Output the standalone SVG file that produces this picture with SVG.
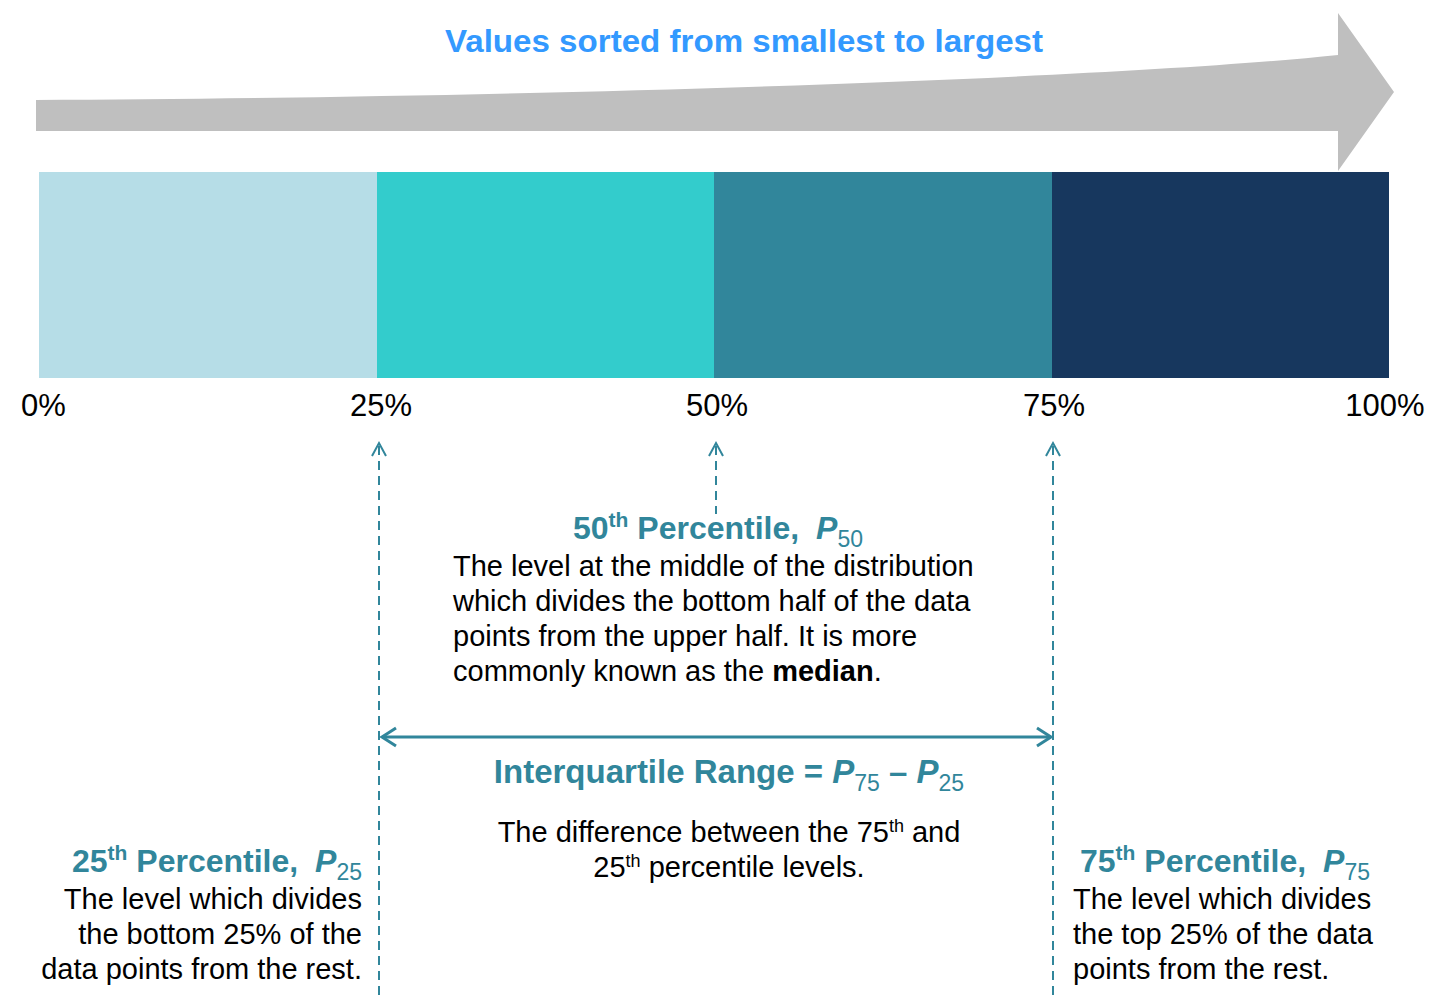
<svg xmlns="http://www.w3.org/2000/svg" width="1449" height="996" viewBox="0 0 1449 996">
<style>
.t{font-family:"Liberation Sans",Arial,sans-serif}
.pct{font-size:31px;fill:#000}
.hd{font-size:32px;font-weight:bold;fill:#31869B}
.bd{font-size:29px;fill:#000}
.dash{stroke:#31869B;stroke-width:2;stroke-dasharray:9,6;fill:none}
.chev{stroke:#31869B;stroke-width:2;fill:none}
</style>
<rect width="1449" height="996" fill="#fff"/>
<g id="big-arrow">
<path d="M36,100 C500,98 1100,80 1338,55 L1338,13 L1394,92 L1338,171 L1338,131 L36,131 Z" fill="#BFBFBF"/>
<text class="t" x="744" y="52" text-anchor="middle" font-size="32" font-weight="bold" fill="#3399FF" textLength="598" lengthAdjust="spacingAndGlyphs">Values sorted from smallest to largest</text>
</g>
<g id="bar">
<rect x="39" y="172" width="338" height="206" fill="#B6DDE7"/>
<rect x="377" y="172" width="337" height="206" fill="#33CCCC"/>
<rect x="714" y="172" width="338" height="206" fill="#31869B"/>
<rect x="1052" y="172" width="337" height="206" fill="#17375E"/>
</g>
<g id="pct-labels" class="t pct">
<text x="21" y="416">0%</text>
<text x="381" y="416" text-anchor="middle">25%</text>
<text x="717" y="416" text-anchor="middle">50%</text>
<text x="1054" y="416" text-anchor="middle">75%</text>
<text x="1385" y="416" text-anchor="middle">100%</text>
</g>
<g id="connectors">
<line class="dash" x1="379" y1="446" x2="379" y2="996"/>
<polyline class="chev" points="372,456 379,443 386,456"/>
<line class="dash" x1="716" y1="446" x2="716" y2="514"/>
<polyline class="chev" points="709,456 716,443 723,456"/>
<line class="dash" x1="1053" y1="446" x2="1053" y2="996"/>
<polyline class="chev" points="1046,456 1053,443 1060,456"/>
<line x1="382" y1="737" x2="1051" y2="737" stroke="#31869B" stroke-width="3"/>
<polyline points="396,728 382,737 396,746" stroke="#31869B" stroke-width="3" fill="none"/>
<polyline points="1037,728 1051,737 1037,746" stroke="#31869B" stroke-width="3" fill="none"/>
</g>
<g id="p50">
<text class="t hd" x="573" y="539">50<tspan font-size="21" dy="-12">th</tspan><tspan dy="12"> Percentile, </tspan><tspan font-style="italic" dx="8">P</tspan><tspan font-size="23" font-weight="normal" dy="8">50</tspan></text>
<text class="t bd" x="453" y="576">The level at the middle of the distribution</text>
<text class="t bd" x="453" y="611">which divides the bottom half of the data</text>
<text class="t bd" x="453" y="646">points from the upper half. It is more</text>
<text class="t bd" x="453" y="681">commonly known as the <tspan font-weight="bold">median</tspan>.</text>
</g>
<g id="iqr">
<text class="t" x="729" y="783" text-anchor="middle" font-size="33" font-weight="bold" fill="#31869B">Interquartile Range = <tspan font-style="italic">P</tspan><tspan font-size="23" font-weight="normal" dy="8">75</tspan><tspan dy="-8"> – </tspan><tspan font-style="italic">P</tspan><tspan font-size="23" font-weight="normal" dy="8">25</tspan></text>
<text class="t bd" x="729" y="842" text-anchor="middle">The difference between the 75<tspan font-size="18" dy="-10">th</tspan><tspan dy="10"> and</tspan></text>
<text class="t bd" x="729" y="877" text-anchor="middle">25<tspan font-size="18" dy="-10">th</tspan><tspan dy="10"> percentile levels.</tspan></text>
</g>
<g id="p25">
<text class="t hd" x="362" y="872" text-anchor="end">25<tspan font-size="21" dy="-12">th</tspan><tspan dy="12"> Percentile, </tspan><tspan font-style="italic" dx="8">P</tspan><tspan font-size="23" font-weight="normal" dy="8">25</tspan></text>
<text class="t bd" x="362" y="909" text-anchor="end">The level which divides</text>
<text class="t bd" x="362" y="944" text-anchor="end">the bottom 25% of the</text>
<text class="t bd" x="362" y="979" text-anchor="end">data points from the rest.</text>
</g>
<g id="p75">
<text class="t hd" x="1080" y="872">75<tspan font-size="21" dy="-12">th</tspan><tspan dy="12"> Percentile, </tspan><tspan font-style="italic" dx="8">P</tspan><tspan font-size="23" font-weight="normal" dy="8">75</tspan></text>
<text class="t bd" x="1073" y="909">The level which divides</text>
<text class="t bd" x="1073" y="944">the top 25% of the data</text>
<text class="t bd" x="1073" y="979">points from the rest.</text>
</g>
</svg>
